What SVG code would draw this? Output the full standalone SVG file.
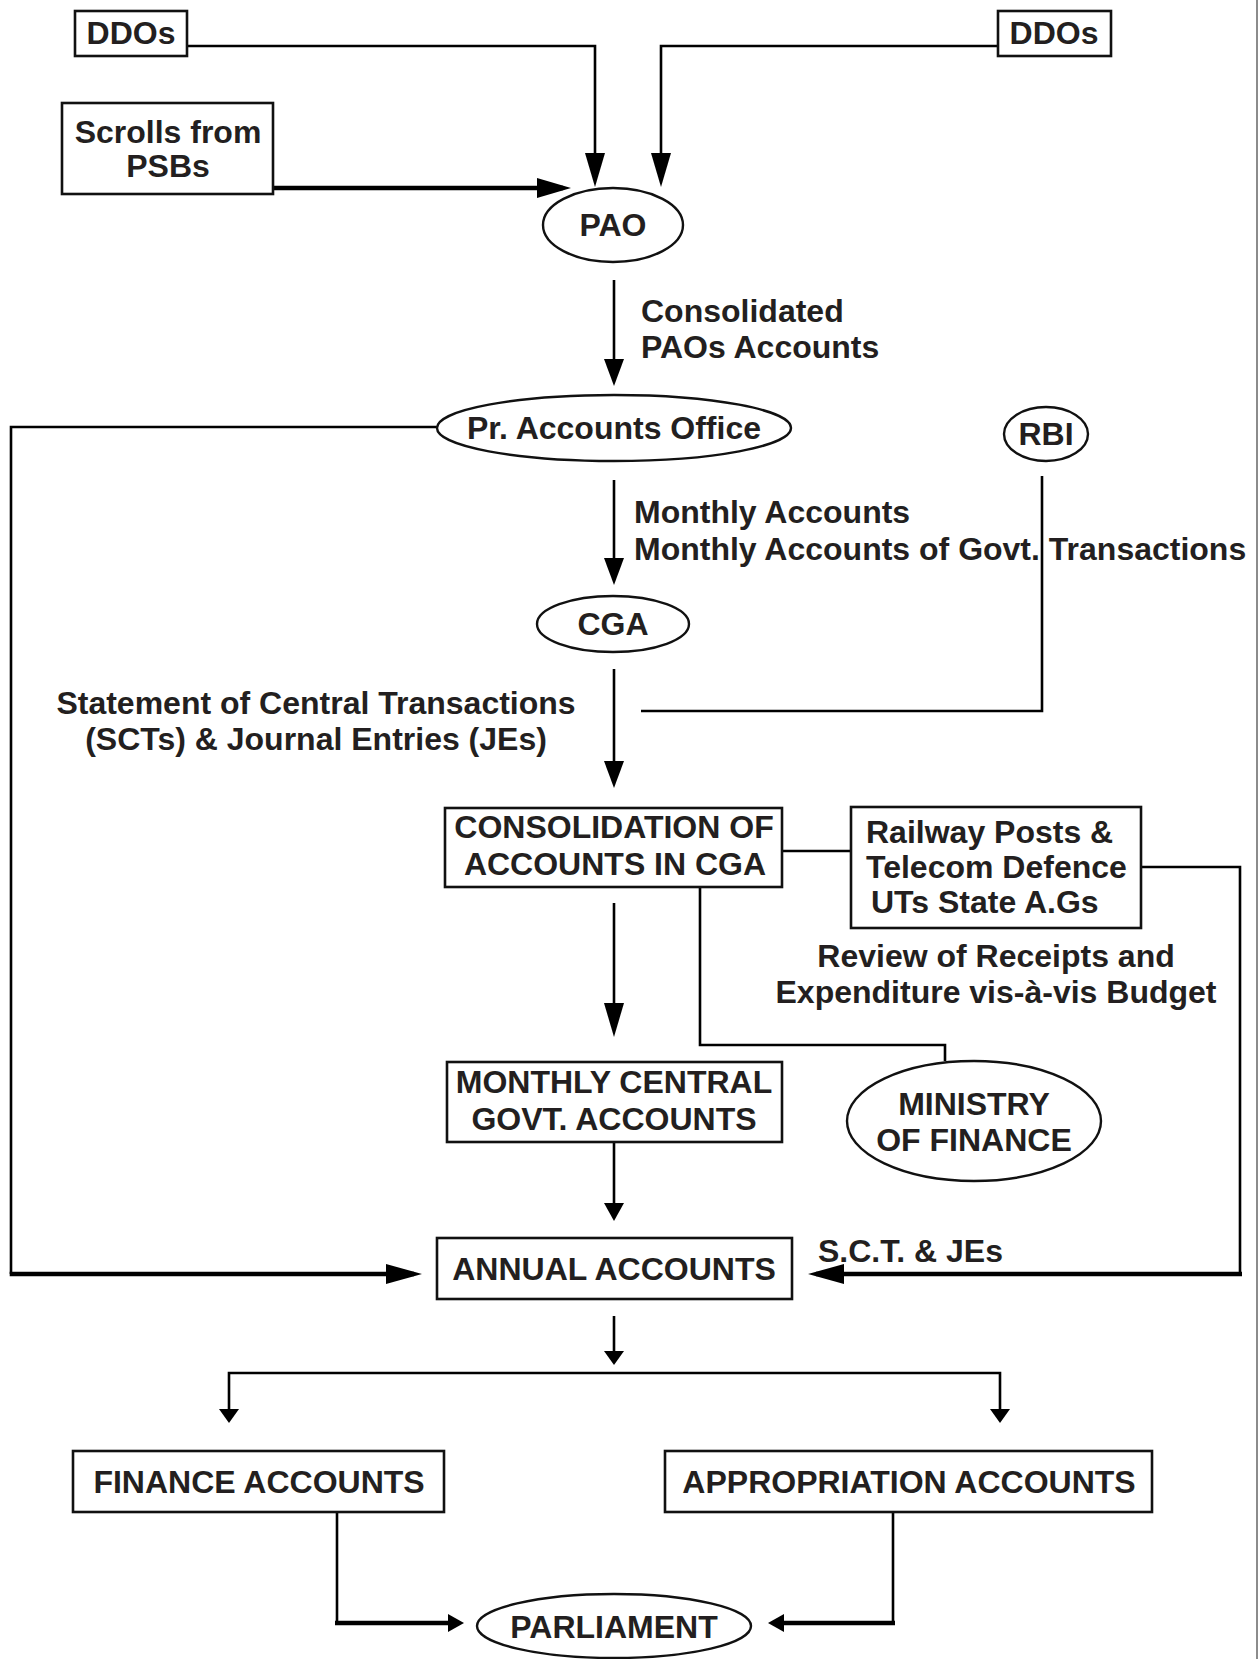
<svg xmlns="http://www.w3.org/2000/svg" width="1260" height="1659" viewBox="0 0 1260 1659">
<style>
  .box{fill:#fff;stroke:#111;stroke-width:2.6}
  .ell{fill:#fff;stroke:#111;stroke-width:2.4}
  .t{font-family:"Liberation Sans",Arial,sans-serif;font-weight:bold;font-size:32px;fill:#231f20}
  .c{text-anchor:middle}
  .ln{fill:none;stroke:#000;stroke-width:2.6}
  .thick{fill:none;stroke:#000;stroke-width:4.6}
</style>
<defs>
  <marker id="aBig" markerUnits="userSpaceOnUse" markerWidth="34" markerHeight="20" refX="26" refY="10" orient="auto"><path d="M0,0 L34,10 L0,20 z" fill="#000"/></marker>
  <marker id="aMed" markerUnits="userSpaceOnUse" markerWidth="27" markerHeight="20" refX="19" refY="10" orient="auto"><path d="M0,0 L27,10 L0,20 z" fill="#000"/></marker>
  <marker id="aSm" markerUnits="userSpaceOnUse" markerWidth="18" markerHeight="20" refX="10" refY="10" orient="auto"><path d="M0,0 L18,10 L0,20 z" fill="#000"/></marker>
  <marker id="aTiny" markerUnits="userSpaceOnUse" markerWidth="14" markerHeight="20" refX="6" refY="10" orient="auto"><path d="M0,0 L14,10 L0,20 z" fill="#000"/></marker>
  <marker id="aThick" markerUnits="userSpaceOnUse" markerWidth="36" markerHeight="20" refX="28" refY="10" orient="auto"><path d="M0,0 L36,10 L0,20 z" fill="#000"/></marker>
  <marker id="aPar" markerUnits="userSpaceOnUse" markerWidth="16" markerHeight="18" refX="8" refY="9" orient="auto"><path d="M0,0 L16,9 L0,18 z" fill="#000"/></marker>
</defs>
<rect width="1260" height="1659" fill="#fff"/>
<line x1="1257" y1="0" x2="1257" y2="1659" stroke="#666" stroke-width="1.5"/>

<g id="connectors">
  <path class="ln" d="M187,46 H595 V179" marker-end="url(#aBig)"/>
  <path class="ln" d="M998,46 H661 V179" marker-end="url(#aBig)"/>
  <path class="thick" d="M274,188 H563" marker-end="url(#aBig)"/>
  <path class="ln" d="M614,280 V378" marker-end="url(#aMed)"/>
  <path class="ln" d="M437,427 H11 V1274"/>
  <path class="thick" d="M9.7,1274 H414" marker-end="url(#aThick)"/>
  <path class="ln" d="M614,480 V577" marker-end="url(#aMed)"/>
  <path class="ln" d="M1042,476 V711 H641"/>
  <path class="ln" d="M614,669 V780" marker-end="url(#aMed)"/>
  <path class="ln" d="M782,851 H851"/>
  <path class="ln" d="M1141,867 H1240 V1274"/>
  <path class="thick" d="M1242,1274 H816" marker-end="url(#aThick)"/>
  <path class="ln" d="M614,903 V1029" marker-end="url(#aBig)"/>
  <path class="ln" d="M700,887 V1045 H945 V1061"/>
  <path class="ln" d="M614,1142 V1213" marker-end="url(#aSm)"/>
  <path class="ln" d="M614,1316 V1357" marker-end="url(#aTiny)"/>
  <path class="ln" d="M614,1373 H229 V1415" marker-end="url(#aTiny)"/>
  <path class="ln" d="M614,1373 H1000 V1415" marker-end="url(#aTiny)"/>
  <path class="ln" d="M337,1512 V1623"/>
  <path class="thick" d="M335,1623 H456" marker-end="url(#aPar)"/>
  <path class="ln" d="M893,1512 V1623"/>
  <path class="thick" d="M895,1623 H776" marker-end="url(#aPar)"/>
</g>

<g id="ddos-left"><rect class="box" x="75" y="11" width="112" height="45"/><text class="t c" x="131" y="44">DDOs</text></g>
<g id="ddos-right"><rect class="box" x="998" y="11" width="113" height="45"/><text class="t c" x="1054" y="44">DDOs</text></g>
<g id="scrolls"><rect class="box" x="62" y="103" width="211" height="91"/><text class="t c" x="168" y="143">Scrolls from</text><text class="t c" x="168" y="177">PSBs</text></g>
<g id="pao"><ellipse class="ell" cx="613" cy="225" rx="70" ry="37"/><text class="t c" x="613" y="236">PAO</text></g>
<g id="label-consolidated"><text class="t" x="641" y="322">Consolidated</text><text class="t" x="641" y="358">PAOs Accounts</text></g>
<g id="pr-accounts"><ellipse class="ell" cx="614" cy="428" rx="177" ry="33"/><text class="t c" x="614" y="439">Pr. Accounts Office</text></g>
<g id="rbi"><ellipse class="ell" cx="1046" cy="434" rx="42" ry="27"/><text class="t c" x="1046" y="445">RBI</text></g>
<g id="label-monthly"><text class="t" x="634" y="523">Monthly Accounts</text><text class="t" x="634" y="560">Monthly Accounts of Govt. Transactions</text></g>
<g id="cga"><ellipse class="ell" cx="613" cy="624" rx="76" ry="28"/><text class="t c" x="613" y="635">CGA</text></g>
<g id="label-statement"><text class="t c" x="316" y="714">Statement of Central Transactions</text><text class="t c" x="316" y="750">(SCTs) &amp; Journal Entries (JEs)</text></g>
<g id="consolidation"><rect class="box" x="445" y="808" width="337" height="79"/><text class="t c" x="614" y="838">CONSOLIDATION OF</text><text class="t c" x="615" y="875">ACCOUNTS IN CGA</text></g>
<g id="railway"><rect class="box" x="851" y="807" width="290" height="121"/><text class="t" x="866" y="843">Railway Posts &amp;</text><text class="t" x="866" y="878">Telecom Defence</text><text class="t" x="871" y="913">UTs State A.Gs</text></g>
<g id="label-review"><text class="t c" x="996" y="967">Review of Receipts and</text><text class="t c" x="996" y="1003">Expenditure vis-à-vis Budget</text></g>
<g id="monthly-central"><rect class="box" x="447" y="1062" width="335" height="80"/><text class="t c" x="614" y="1093">MONTHLY CENTRAL</text><text class="t c" x="614" y="1130">GOVT. ACCOUNTS</text></g>
<g id="ministry"><ellipse class="ell" cx="974" cy="1121" rx="127" ry="60"/><text class="t c" x="974" y="1115">MINISTRY</text><text class="t c" x="974" y="1151">OF FINANCE</text></g>
<g id="annual"><rect class="box" x="437" y="1238" width="355" height="61"/><text class="t c" x="614" y="1280">ANNUAL ACCOUNTS</text></g>
<g id="label-sct"><text class="t" x="818" y="1262">S.C.T. &amp; JEs</text></g>
<g id="finance"><rect class="box" x="73" y="1451" width="371" height="61"/><text class="t c" x="259" y="1493">FINANCE ACCOUNTS</text></g>
<g id="appropriation"><rect class="box" x="665" y="1451" width="487" height="61"/><text class="t c" x="909" y="1493">APPROPRIATION ACCOUNTS</text></g>
<g id="parliament"><ellipse class="ell" cx="614" cy="1626" rx="137" ry="32"/><text class="t c" x="614" y="1638">PARLIAMENT</text></g>
</svg>
